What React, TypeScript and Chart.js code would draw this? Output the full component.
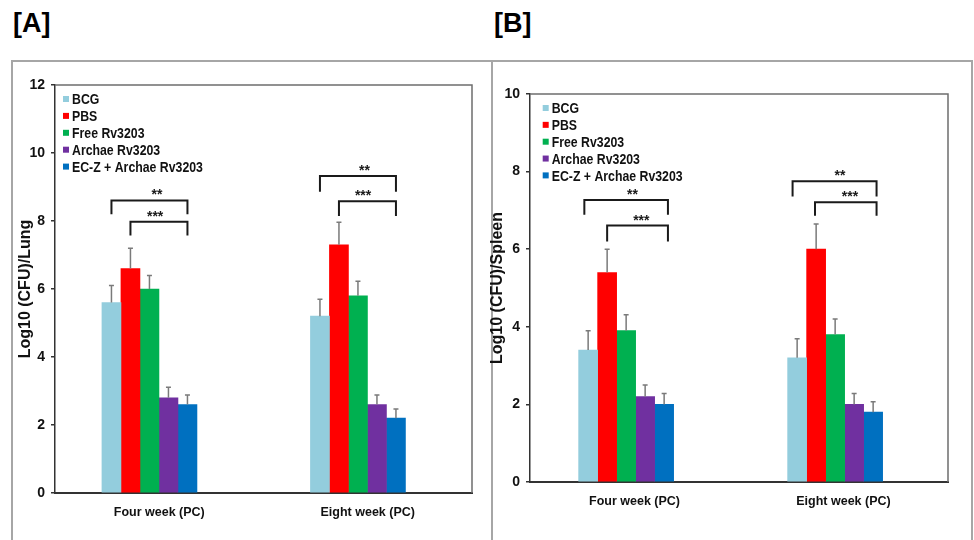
import React, { useEffect, useRef } from "react";
import { Chart, registerables } from "chart.js";

Chart.register(...registerables);

// ---------- DATA ----------
const categories = ["Four week (PC)", "Eight week (PC)"];
const groups = ["BCG", "PBS", "Free Rv3203", "Archae Rv3203", "EC-Z + Archae Rv3203"];
const groupColors = ["#93CDDD", "#FF0000", "#00B050", "#7030A0", "#0070C0"];

// Panel A: Log10 (CFU)/Lung
const lungBCG = [5.6, 5.2];
const lungPBS = [6.6, 7.3];
const lungFree = [6.0, 5.8];
const lungArchae = [2.8, 2.6];
const lungECZ = [2.6, 2.2];
const lungBCGErr = [0.5, 0.5];
const lungPBSErr = [0.6, 0.66];
const lungFreeErr = [0.4, 0.43];
const lungArchaeErr = [0.31, 0.28];
const lungECZErr = [0.28, 0.27];
const lungTicks = [0, 2, 4, 6, 8, 10, 12];

// Panel B: Log10 (CFU)/Spleen
const spleenBCG = [3.4, 3.2];
const spleenPBS = [5.4, 6.0];
const spleenFree = [3.9, 3.8];
const spleenArchae = [2.2, 2.0];
const spleenECZ = [2.0, 1.8];
const spleenBCGErr = [0.5, 0.49];
const spleenPBSErr = [0.6, 0.65];
const spleenFreeErr = [0.41, 0.4];
const spleenArchaeErr = [0.3, 0.28];
const spleenECZErr = [0.28, 0.27];
const spleenTicks = [0, 2, 4, 6, 8, 10];

// Significance brackets (category, bar span, bracket levels in y units)
type Bracket = {
  category: number;
  from: number;
  to: number;
  top: number;
  legEnd: number;
  label: string;
  labelPos: number;
  labelY: number;
};
const lungBrackets: Bracket[] = [
  { category: 0, from: 0, to: 4, top: 8.6, legEnd: 8.2, label: "**", labelPos: 2.4, labelY: 8.89 },
  { category: 0, from: 1, to: 4, top: 7.98, legEnd: 7.57, label: "***", labelPos: 2.3, labelY: 8.24 },
  { category: 1, from: 0, to: 4, top: 9.32, legEnd: 8.86, label: "**", labelPos: 2.34, labelY: 9.58 },
  { category: 1, from: 1, to: 4, top: 8.58, legEnd: 8.15, label: "***", labelPos: 2.27, labelY: 8.86 },
];
const spleenBrackets: Bracket[] = [
  { category: 0, from: -0.2, to: 4.2, top: 7.27, legEnd: 6.89, label: "**", labelPos: 2.33, labelY: 7.51 },
  { category: 0, from: 1, to: 4.2, top: 6.61, legEnd: 6.2, label: "***", labelPos: 2.8, labelY: 6.84 },
  { category: 1, from: -0.24, to: 4.18, top: 7.75, legEnd: 7.36, label: "**", labelPos: 2.25, labelY: 7.99 },
  { category: 1, from: 0.94, to: 4.18, top: 7.21, legEnd: 6.86, label: "***", labelPos: 2.78, labelY: 7.46 },
];

const WIDE = "'Liberation Sans', Arial, sans-serif";

type PanelProps = {
  left: number;
  top: number;
  width: number;
  height: number;
  means: number[][];
  errors: number[][];
  brackets: Bracket[];
  ticks: number[];
  yTitle: string;
  yAxisWidth: number;
  padRight: number;
  padTop: number;
  xAxisHeight: number;
  barShift: number;
  legendX: number;
  legendY: number;
  legendRow: number;
  titlePad: number;
};

function Panel(p: PanelProps) {
  const ref = useRef<HTMLCanvasElement | null>(null);

  useEffect(() => {
    if (!ref.current) return;

    const framePlugin = {
      id: "frame",
      beforeDatasetsDraw(chart: any) {
        const { ctx, chartArea } = chart;
        ctx.save();
        ctx.strokeStyle = "#6e6e6e";
        ctx.lineWidth = 1.5;
        ctx.beginPath();
        ctx.moveTo(chartArea.left, chartArea.top);
        ctx.lineTo(chartArea.right, chartArea.top);
        ctx.lineTo(chartArea.right, chartArea.bottom);
        ctx.stroke();
        ctx.restore();
      },
    };

    const errorPlugin = {
      id: "errorbars",
      afterDatasetsDraw(chart: any) {
        const { ctx } = chart;
        const yScale = chart.scales.y;
        ctx.save();
        ctx.strokeStyle = "#7a7a7a";
        ctx.lineWidth = 1.5;
        chart.data.datasets.forEach((ds: any, j: number) => {
          const meta = chart.getDatasetMeta(j);
          meta.data.forEach((bar: any, i: number) => {
            const v = ds.data[i].y;
            const e = p.errors[j][i];
            const yTop = yScale.getPixelForValue(v + e);
            ctx.beginPath();
            ctx.moveTo(bar.x, bar.y);
            ctx.lineTo(bar.x, yTop);
            ctx.moveTo(bar.x - 2.5, yTop);
            ctx.lineTo(bar.x + 2.5, yTop);
            ctx.stroke();
          });
        });
        ctx.restore();
      },
    };

    const bracketPlugin = {
      id: "brackets",
      afterDatasetsDraw(chart: any) {
        const { ctx } = chart;
        const yScale = chart.scales.y;
        ctx.save();
        ctx.strokeStyle = "#1a1a1a";
        ctx.lineWidth = 2;
        ctx.fillStyle = "#1a1a1a";
        ctx.font = `bold 14px ${WIDE}`;
        ctx.textAlign = "center";
        ctx.textBaseline = "alphabetic";
        p.brackets.forEach((b) => {
          const b0 = chart.getDatasetMeta(0).data[b.category];
          const b1 = chart.getDatasetMeta(1).data[b.category];
          const step = b1.x - b0.x;
          const x1 = b0.x + b.from * step;
          const x2 = b0.x + b.to * step;
          const yT = yScale.getPixelForValue(b.top);
          const yL = yScale.getPixelForValue(b.legEnd);
          ctx.beginPath();
          ctx.moveTo(x1, yL);
          ctx.lineTo(x1, yT);
          ctx.lineTo(x2, yT);
          ctx.lineTo(x2, yL);
          ctx.stroke();
          const lx = b0.x + b.labelPos * step;
          const ly = yScale.getPixelForValue(b.labelY) + 8;
          ctx.fillText(b.label, lx, ly);
        });
        ctx.restore();
      },
    };

    const legendPlugin = {
      id: "insideLegend",
      afterDraw(chart: any) {
        const { ctx, chartArea } = chart;
        ctx.save();
        ctx.font = `bold 15px ${WIDE}`;
        ctx.textAlign = "left";
        ctx.textBaseline = "middle";
        chart.data.datasets.forEach((ds: any, j: number) => {
          const cy = chartArea.top + p.legendY + j * p.legendRow;
          const tx = chartArea.left + p.legendX;
          ctx.fillStyle = ds.backgroundColor;
          ctx.fillRect(tx - 9, cy - 3, 6, 6);
          ctx.fillStyle = "#111";
          ctx.save();
          ctx.translate(tx, cy + 1);
          ctx.scale(0.82, 1);
          ctx.fillText(ds.label, 0, 0);
          ctx.restore();
        });
        ctx.restore();
      },
    };

    const chart = new Chart(ref.current, {
      type: "bar",
      data: {
        datasets: groups.map((g, j) => ({
          label: g,
          data: p.means[j].map((v, i) => ({ x: i + 0.5 + p.barShift, y: v })),
          backgroundColor: groupColors[j],
          borderWidth: 0,
          barThickness: 19,
        })),
      } as any,
      options: {
        animation: false,
        responsive: true,
        maintainAspectRatio: false,
        layout: { padding: { left: 0, right: p.padRight, top: p.padTop, bottom: 0 } },
        plugins: {
          legend: { display: false },
          tooltip: { enabled: false },
        },
        scales: {
          x: {
            type: "linear",
            offset: false,
            min: 0,
            max: categories.length,
            afterBuildTicks: (s: any) => {
              s.ticks = categories.map((_, i) => ({ value: i + 0.5 }));
            },
            afterFit: (s: any) => {
              s.height = p.xAxisHeight;
            },
            ticks: {
              callback: (_v: any, i: number) => categories[i],
              font: { family: WIDE, size: 12.5, weight: "bold" },
              color: "#111",
              padding: 12,
              maxRotation: 0,
              autoSkip: false,
            },
            grid: { display: false, drawTicks: false, offset: false },
            border: { display: true, color: "#333", width: 2 },
          },
          y: {
            min: p.ticks[0],
            max: p.ticks[p.ticks.length - 1],
            afterBuildTicks: (s: any) => {
              s.ticks = p.ticks.map((v) => ({ value: v }));
            },
            afterFit: (s: any) => {
              s.width = p.yAxisWidth;
            },
            ticks: {
              font: { family: WIDE, size: 14, weight: "bold" },
              color: "#111",
              padding: 6,
            },
            grid: { drawOnChartArea: false, drawTicks: true, tickLength: 4, color: "#333", lineWidth: 1.5 },
            border: { display: true, color: "#333", width: 1.5 },
            title: {
              display: true,
              text: p.yTitle,
              font: { family: WIDE, size: 16, weight: "bold", lineHeight: 1 },
              color: "#111",
              padding: { top: p.titlePad, bottom: 0 },
            },
          },
        },
      } as any,
      plugins: [framePlugin, errorPlugin, bracketPlugin, legendPlugin],
    });
    return () => chart.destroy();
  }, []);

  return (
    <div style={{ position: "absolute", left: p.left, top: p.top, width: p.width, height: p.height }}>
      <canvas ref={ref} />
    </div>
  );
}

export default function App() {
  const lungMeans = [lungBCG, lungPBS, lungFree, lungArchae, lungECZ];
  const lungErrs = [lungBCGErr, lungPBSErr, lungFreeErr, lungArchaeErr, lungECZErr];
  const spleenMeans = [spleenBCG, spleenPBS, spleenFree, spleenArchae, spleenECZ];
  const spleenErrs = [spleenBCGErr, spleenPBSErr, spleenFreeErr, spleenArchaeErr, spleenECZErr];

  const line = "#a6a6a6";
  const titleStyle: React.CSSProperties = {
    position: "absolute",
    top: 8,
    fontFamily: WIDE,
    fontWeight: "bold",
    fontSize: 27,
    lineHeight: "30px",
    color: "#000",
  };

  return (
    <div style={{ position: "absolute", left: 0, top: 0, width: 974, height: 540, background: "#fff", overflow: "hidden" }}>
      <div style={{ ...titleStyle, left: 13 }}>[A]</div>
      <div style={{ ...titleStyle, left: 494 }}>[B]</div>
      <div style={{ position: "absolute", left: 11, top: 60, width: 962, height: 2, background: line }} />
      <div style={{ position: "absolute", left: 11, top: 60, width: 2, height: 480, background: line }} />
      <div style={{ position: "absolute", left: 491, top: 60, width: 2, height: 480, background: line }} />
      <div style={{ position: "absolute", left: 971, top: 60, width: 2, height: 480, background: line }} />
      <Panel
        left={8}
        top={62}
        width={483}
        height={478}
        means={lungMeans}
        errors={lungErrs}
        brackets={lungBrackets}
        ticks={lungTicks}
        yTitle="Log10 (CFU)/Lung"
        yAxisWidth={47}
        padRight={19}
        padTop={23}
        xAxisHeight={47}
        barShift={-0.047}
        legendX={17}
        legendY={14}
        legendRow={16.9}
        titlePad={10}
      />
      <Panel
        left={486}
        top={62}
        width={488}
        height={478}
        means={spleenMeans}
        errors={spleenErrs}
        brackets={spleenBrackets}
        ticks={spleenTicks}
        yTitle="Log10 (CFU)/Spleen"
        yAxisWidth={44}
        padRight={26}
        padTop={32}
        xAxisHeight={58}
        barShift={-0.04}
        legendX={21.7}
        legendY={14}
        legendRow={16.85}
        titlePad={4}
      />
    </div>
  );
}
